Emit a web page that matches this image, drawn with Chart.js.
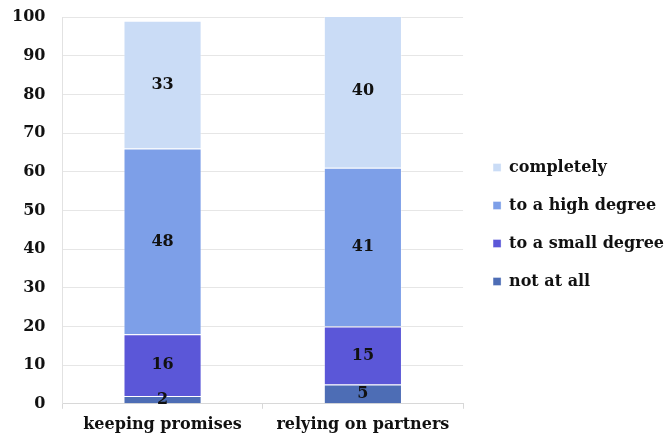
<!DOCTYPE html>
<html>
<head>
<meta charset="utf-8">
<script src="https://cdn.jsdelivr.net/npm/chart.js@4/dist/chart.umd.min.js"></script>
<style>
  html, body { margin: 0; padding: 0; background: #fff; }
  #wrap { width: 672px; height: 444px; }
</style>
</head>
<body>
<div id="wrap"><canvas id="trustChart"></canvas></div>
<script>
// categories and shares (percent) per answer
var categories = ['keeping promises', 'relying on partners'];
var notAtAll = [2, 5];
var smallDegree = [16, 15];
var highDegree = [48, 41];
var completely = [33, 40];

var fontFace = "'DejaVu Serif', serif";

// writes each segment's value in the middle of its bar
var valueLabels = {
  id: 'valueLabels',
  afterDatasetsDraw: function(chart)
  {
    var ctx = chart.ctx;
    ctx.save();
    ctx.font = 'bold 16px ' + fontFace;
    ctx.fillStyle = '#111';
    ctx.textAlign = 'center';
    ctx.textBaseline = 'middle';
    chart.data.datasets.forEach(function(ds, i)
    {
      var meta = chart.getDatasetMeta(i);
      meta.data.forEach(function(bar, j)
      {
        var p = bar.getCenterPoint();
        ctx.fillText(ds.data[j], p.x, p.y);
      });
    });
    ctx.restore();
  }
};

// pushes the legend a bit away from the plot
var legendNudge = {
  id: 'legendNudge',
  afterLayout: function(chart)
  {
    var lg = chart.legend;
    if (!lg) return;
    lg.left += 8;
    lg.right += 8;
    lg.top -= 4;
    lg.bottom -= 4;
  }
};

var config =
{
  type: 'bar',
  data:
  {
    labels: categories,
    datasets:
    [
      { label: 'not at all', data: notAtAll, backgroundColor: '#4d6db5' },
      { label: 'to a small degree', data: smallDegree, backgroundColor: '#5b57d8' },
      { label: 'to a high degree', data: highDegree, backgroundColor: '#7d9fe8' },
      { label: 'completely', data: completely, backgroundColor: '#cadcf6' }
    ]
  },
  options:
  {
    responsive: true,
    maintainAspectRatio: false,
    animation: false,
    datasets: { bar: { categoryPercentage: 1.0, barPercentage: 0.39, borderWidth: 1, borderColor: 'rgba(255,255,255,0.35)' } },
    layout: { padding: { top: 17, left: 10, right: 6, bottom: 4 } },
    plugins:
    {
      tooltip: { enabled: false },
      legend:
      {
        position: 'right',
        reverse: true,
        maxWidth: 260,
        labels:
        {
          boxWidth: 8,
          boxHeight: 8,
          padding: 22,
          color: '#111',
          font: { family: fontFace, size: 16, weight: 'bold' }
        }
      }
    },
    scales:
    {
      x:
      {
        stacked: true,
        grid: { offset: true, drawOnChartArea: false, tickLength: 5, color: '#d8d8d8' },
        border: { color: '#d8d8d8' },
        ticks: { color: '#111', padding: 6, font: { family: fontFace, size: 16, weight: 'bold' } }
      },
      y:
      {
        stacked: true,
        min: 0,
        max: 100,
        grid: { color: '#e6e6e6', tickLength: 15, tickColor: 'rgba(0,0,0,0)' },
        border: { color: '#e2e2e2' },
        ticks: { stepSize: 10, padding: 2, color: '#111', font: { family: fontFace, size: 16, weight: 'bold' } }
      }
    }
  },
  plugins: [valueLabels, legendNudge]
};

new Chart(document.getElementById('trustChart'), config);
</script>
</body>
</html>
